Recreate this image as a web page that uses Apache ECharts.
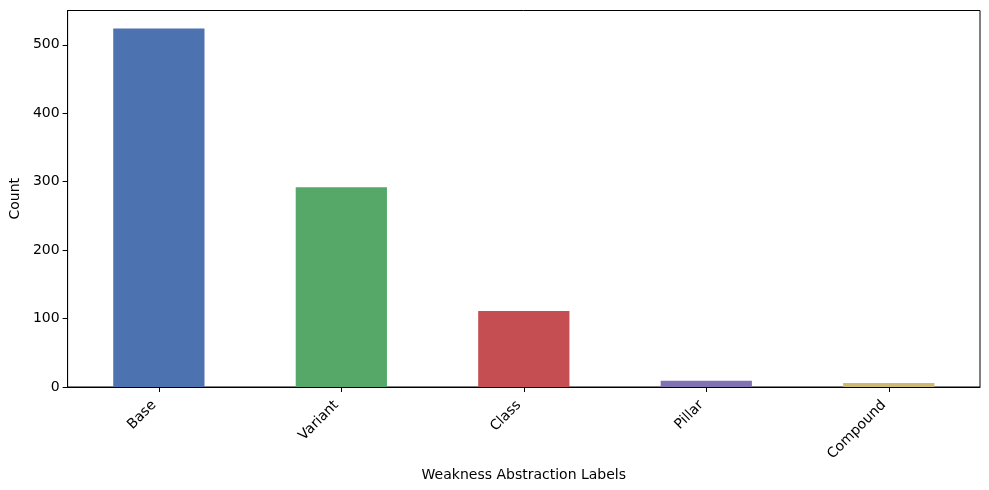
<!DOCTYPE html>
<html>
<head>
<meta charset="utf-8">
<script src="https://cdn.jsdelivr.net/npm/echarts@6/dist/echarts.min.js"></script>
<style>
  html, body { margin: 0; padding: 0; background: #fff; }
  #chart { width: 989px; height: 490px; }
</style>
</head>
<body>
<div id="chart"></div>
<script>
const categories = ["Base", "Variant", "Class", "Pillar", "Compound"];
const counts = [524, 292, 111, 9, 6];
const barColors = ["#4C72B0", "#55A868", "#C44E52", "#8172B2", "#CCB974"];
const yTicks = [0, 100, 200, 300, 400, 500];

let myChart = echarts.init(document.getElementById("chart"));
const font = "DejaVu Sans";

let option = {
  animation: false,
  grid: {
    left: 66,
    right: 9,
    top: 10.5,
    bottom: 103,
    show: true,
    borderColor: "#000",
    borderWidth: 1,
  },
  xAxis: {
    type: "category",
    data: categories,
    name: "Weakness Abstraction Labels",
    nameLocation: "middle",
    nameGap: 77,
    nameTextStyle: { fontFamily: font, fontSize: 14, color: "#000" },
    axisLine: { show: true, lineStyle: { color: "#000", width: 1 } },
    axisTick: { show: true, alignWithLabel: true, length: 5, lineStyle: { color: "#000" } },
    axisLabel: {
      rotate: 45,
      margin: 11,
      padding: [0, 7, 0, 0],
      fontFamily: font,
      fontSize: 14,
      color: "#000",
    },
  },
  yAxis: {
    type: "value",
    min: 0,
    max: 550.2,
    interval: 100,
    name: "Count",
    nameLocation: "middle",
    nameGap: 43,
    nameTextStyle: { fontFamily: font, fontSize: 14, color: "#000" },
    splitLine: { show: false },
    axisLine: { show: true, lineStyle: { color: "#000", width: 1 } },
    axisTick: { show: true, length: 5, lineStyle: { color: "#000" } },
    axisLabel: {
      fontFamily: font,
      fontSize: 14,
      color: "#000",
      margin: 8,
      showMaxLabel: false,
      formatter: (v) => (yTicks.includes(v) ? String(v) : ""),
    },
  },
  series: [
    {
      type: "bar",
      barWidth: "50%",
      data: counts.map((v, i) => ({ value: v, itemStyle: { color: barColors[i] } })),
    },
  ],
};
myChart.setOption(option);
</script>
</body>
</html>
